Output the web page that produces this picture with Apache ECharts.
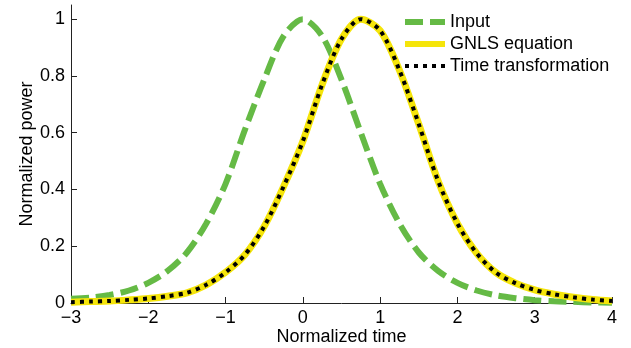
<!DOCTYPE html>
<html>
<head>
<meta charset="utf-8">
<script src="https://cdn.jsdelivr.net/npm/echarts@6/dist/echarts.min.js"></script>
<style>
  html, body { margin: 0; padding: 0; background: #fff; }
  #chart { width: 631px; height: 348px; }
</style>
</head>
<body>
<div id="chart"></div>
<script>
// normalized time samples
const timeValues = [-3, -2.75, -2.5, -2.25, -2, -1.75, -1.5, -1.25, -1, -0.75, -0.5, -0.25,
  0, 0.25, 0.5, 0.75, 1, 1.25, 1.5, 1.75, 2, 2.25, 2.5, 2.75, 3, 3.25, 3.5, 3.75, 4];

const inputPower = [0.015, 0.019, 0.028, 0.044, 0.071, 0.113, 0.178, 0.28, 0.42, 0.61, 0.787, 0.94,
  1.0, 0.94, 0.787, 0.6, 0.42, 0.28, 0.178, 0.113, 0.071, 0.044, 0.027, 0.017, 0.01, 0.006, 0.004, 0.002, 0.001];
const gnlsPower = [0.003, 0.005, 0.007, 0.011, 0.016, 0.024, 0.036, 0.064, 0.108, 0.17, 0.27, 0.41,
  0.57, 0.77, 0.93, 1.0, 0.96, 0.82, 0.63, 0.43, 0.28, 0.175, 0.107, 0.07, 0.046, 0.031, 0.02, 0.012, 0.007];
const timeTransformPower = [0.003, 0.005, 0.007, 0.011, 0.016, 0.024, 0.036, 0.064, 0.108, 0.17, 0.27, 0.41,
  0.57, 0.77, 0.93, 1.0, 0.96, 0.82, 0.63, 0.43, 0.28, 0.175, 0.107, 0.07, 0.046, 0.031, 0.02, 0.012, 0.007];

const yTicks = [0, 0.2, 0.4, 0.6, 0.8, 1];

const pairs = (ys) => timeValues.map((t, i) => [t, ys[i]]);

const font = 'Liberation Sans, Arial, Helvetica, sans-serif';
const axisColor = '#222';
const green = '#65ba45';
const yellow = '#f5e50a';

const chart = echarts.init(document.getElementById('chart'), null, {renderer: 'canvas'});

const options = {
  animation: false,
  grid: {left: 71, right: 19, top: 5, bottom: 45, outerBoundsMode: 'none'},
  legend: {
    orient: 'vertical',
    left: 402,
    top: 13,
    padding: 0,
    itemWidth: 40,
    itemHeight: 14,
    itemGap: 4,
    textStyle: {fontFamily: font, fontSize: 18, color: '#000'},
    data: [
      {name: 'Input', itemStyle: {opacity: 0}, lineStyle: {color: green, width: 6, type: [18, 7], cap: 'butt'}},
      {name: 'GNLS equation', itemStyle: {opacity: 0}, lineStyle: {color: yellow, width: 6, type: 'solid'}},
      {name: 'Time transformation', itemStyle: {opacity: 0}, lineStyle: {color: '#000', width: 4, type: [4, 5], cap: 'butt'}}
    ]
  },
  xAxis: {
    type: 'value',
    min: -3,
    max: 4,
    interval: 1,
    name: 'Normalized time',
    nameLocation: 'middle',
    nameGap: 25,
    nameMoveOverlap: false,
    nameTextStyle: {fontFamily: font, fontSize: 18, color: '#000'},
    axisLine: {onZero: false, lineStyle: {color: axisColor, width: 1}},
    axisTick: {inside: true, length: 6, lineStyle: {color: axisColor}},
    axisLabel: {
      fontFamily: font, fontSize: 18, color: '#000', margin: 6,
      formatter: (v) => String(v).replace('-', '\u2212')
    },
    splitLine: {show: false}
  },
  yAxis: {
    type: 'value',
    min: 0,
    max: 1.05,
    name: 'Normalized power',
    nameLocation: 'middle',
    nameGap: 35,
    nameMoveOverlap: false,
    nameTextStyle: {fontFamily: font, fontSize: 18, color: '#000'},
    axisLine: {show: true, onZero: false, lineStyle: {color: axisColor, width: 1}},
    axisTick: {show: true, inside: true, length: 6, lineStyle: {color: axisColor}, customValues: yTicks},
    axisLabel: {fontFamily: font, fontSize: 18, color: '#000', margin: 6, customValues: yTicks},
    splitLine: {show: false}
  },
  series: [
    {
      name: 'Input',
      type: 'line',
      data: pairs(inputPower),
      smooth: 0.3,
      showSymbol: false,
      symbol: 'none',
      clip: false,
      lineStyle: {color: green, width: 6, type: [18, 7], cap: 'butt'},
      itemStyle: {color: green}
    },
    {
      name: 'GNLS equation',
      type: 'line',
      data: pairs(gnlsPower),
      smooth: 0.3,
      showSymbol: false,
      symbol: 'none',
      clip: false,
      lineStyle: {color: yellow, width: 7, type: 'solid'},
      itemStyle: {color: yellow}
    },
    {
      name: 'Time transformation',
      type: 'line',
      data: pairs(timeTransformPower),
      smooth: 0.3,
      showSymbol: false,
      symbol: 'none',
      clip: false,
      lineStyle: {color: '#000', width: 4, type: [4, 5], cap: 'butt'},
      itemStyle: {color: '#000'}
    }
  ]
};

chart.setOption(options);
</script>
</body>
</html>
